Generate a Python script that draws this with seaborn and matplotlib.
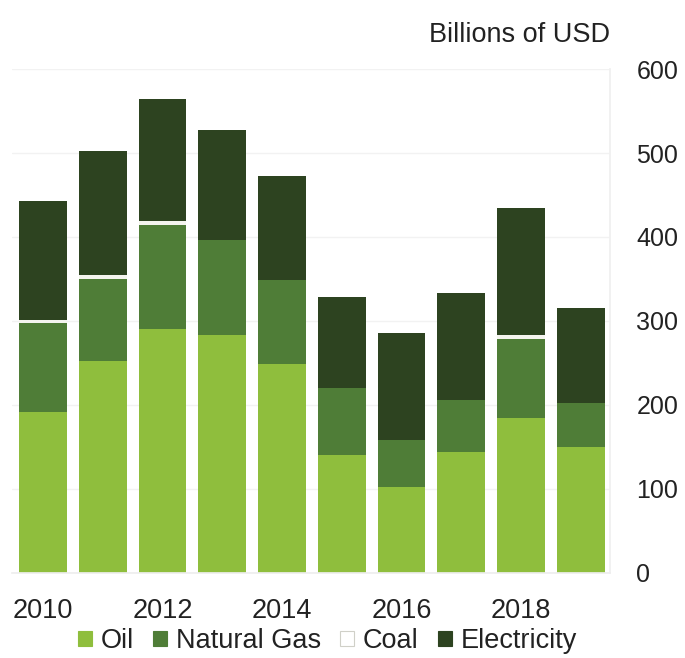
import matplotlib
matplotlib.use("Agg")
import matplotlib.pyplot as plt
from matplotlib.patches import Patch
import numpy as np
import pandas as pd
import seaborn as sns

years = [2010, 2011, 2012, 2013, 2014, 2015, 2016, 2017, 2018, 2019]
oil = [191, 252, 290, 283, 249, 140, 102, 144, 184, 150]
natural_gas = [106, 98, 124, 113, 100, 80, 56, 62, 94, 52]
coal = [4, 5, 5, 0, 0, 0, 0, 0, 5, 0]
electricity = [142, 147, 145, 132, 124, 109, 128, 127, 152, 113]

series_names = ["Oil", "Natural Gas", "Coal", "Electricity"]
colors = {"Oil": "#8fbe3d", "Natural Gas": "#4f7d37",
          "Coal": "#f4f4ee", "Electricity": "#2d4320"}

xtick_labels = ["2010", "2012", "2014", "2016", "2018"]
ytick_values = [0, 100, 200, 300, 400, 500, 600]

df = pd.DataFrame({"Year": [str(y) for y in years], "Oil": oil,
                   "Natural Gas": natural_gas, "Coal": coal,
                   "Electricity": electricity})

sns.set_theme(style="white")
plt.rcParams["font.family"] = ["Liberation Sans", "DejaVu Sans"]

fig = plt.figure(figsize=(6.85, 6.58), dpi=100)
ax = fig.add_axes([0.0175, 0.1296, 0.873, 0.7654])

# stacked bars: each layer sits on the running total of the ones below
bottom = np.zeros(len(years))
for name in series_names:
    sns.barplot(data=df, x="Year", y=name, color=colors[name], ax=ax,
                bottom=bottom, width=0.8, linewidth=0, saturation=1)
    bottom = bottom + df[name].to_numpy()

ax.set_xlim(-0.52, 9.49)
ax.set_ylim(0, 600)
ax.set_xlabel("")
ax.set_ylabel("")

ax.set_xticks([0, 2, 4, 6, 8])
ax.set_xticklabels(xtick_labels, fontsize=19.5, color="#222222")
ax.tick_params(axis="x", length=0, pad=18)

ax.yaxis.tick_right()
ax.set_yticks(ytick_values)
ax.set_yticklabels([str(v) for v in ytick_values], fontsize=18,
                   color="#222222", ha="left")
ax.tick_params(axis="y", length=0, pad=19)

ax.grid(axis="y", color="#f2f2f2", linewidth=1)
ax.set_axisbelow(True)
for side in ["left", "top"]:
    ax.spines[side].set_visible(False)
ax.spines["right"].set_color("#f0f0f0")
ax.spines["bottom"].set_color("#eeeeee")

fig.text(0.8905, 0.936, "Billions of USD", ha="right", va="baseline",
         fontsize=19.5, color="#222222")

handles = [Patch(facecolor="white" if n == "Coal" else colors[n],
                 edgecolor="#d0d0c8" if n == "Coal" else colors[n],
                 linewidth=0.8) for n in series_names]
fig.legend(handles, series_names, loc="center", bbox_to_anchor=(0.478, 0.026),
           ncol=4, frameon=False, fontsize=19.5, handlelength=0.5,
           handleheight=0.5, handletextpad=0.33, columnspacing=0.72,
           labelcolor="#222222", borderpad=0, borderaxespad=0)

fig.savefig("out.png", dpi=100)
